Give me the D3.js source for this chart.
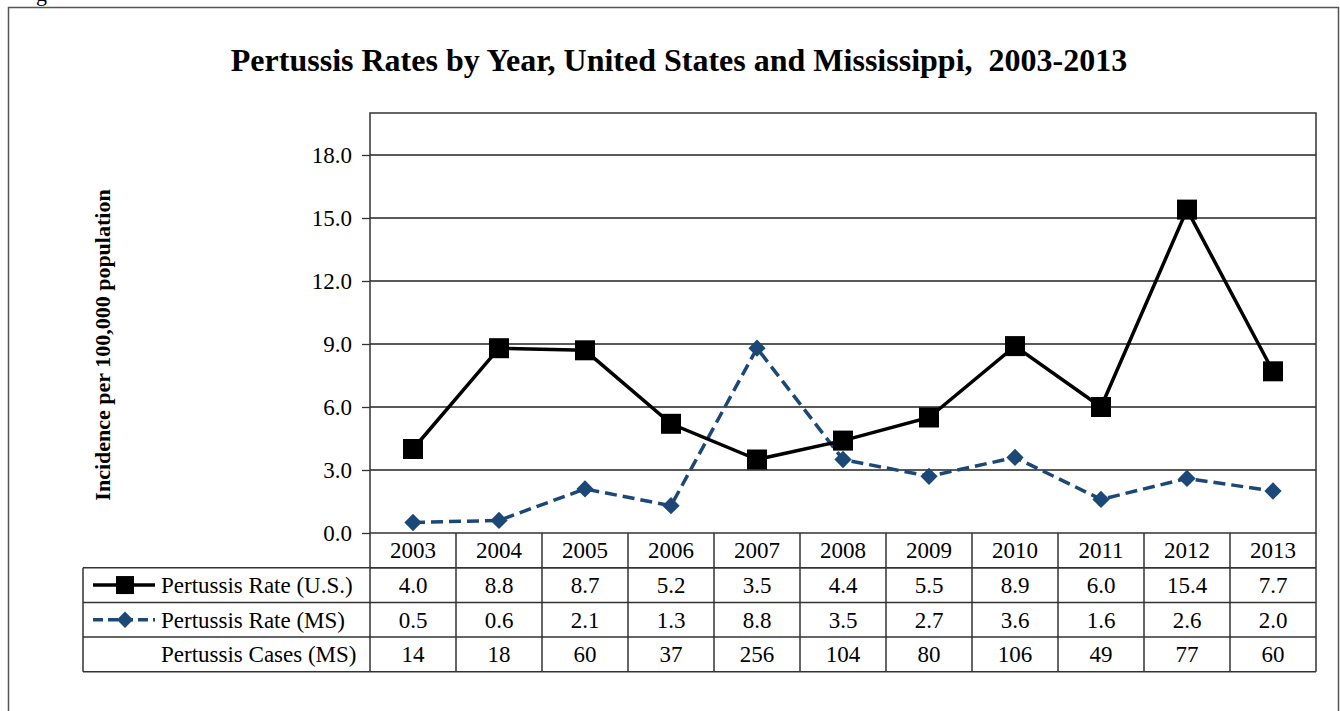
<!DOCTYPE html>
<html lang="en">
<head>
<meta charset="utf-8">
<title>Pertussis Rates</title>
<script src="https://d3js.org/d3.v7.min.js"></script>
<style>
  body { margin: 0; background: #fff; }
  svg text { font-family: "Liberation Serif", "Times New Roman", serif; fill: #000; }
</style>
</head>
<body>
<div id="chart"></div>
<script>
// data
var years = ["2003","2004","2005","2006","2007","2008","2009","2010","2011","2012","2013"];
var usRate = [4.0, 8.8, 8.7, 5.2, 3.5, 4.4, 5.5, 8.9, 6.0, 15.4, 7.7];
var msRate = [0.5, 0.6, 2.1, 1.3, 8.8, 3.5, 2.7, 3.6, 1.6, 2.6, 2.0];
var msCases = [14, 18, 60, 37, 256, 104, 80, 106, 49, 77, 60];
var yTicks = [0, 3, 6, 9, 12, 15, 18];
var rowNames = ["Pertussis Rate (U.S.)", "Pertussis Rate (MS)", "Pertussis Cases (MS)"];

var W = 1340, H = 711;
var plotL = 370, plotR = 1316, plotT = 113, plotB = 533;
var rowH = 34.7, legendLeft = 83;
var msColor = "#1b4876";
var fs = "23px";

var svg = d3.select("#chart").append("svg").attr("width", W).attr("height", H);

// outer frame
svg.append("rect").attr("x", 8.5).attr("y", 7.5).attr("width", 1330).attr("height", 720)
  .attr("fill", "none").attr("stroke", "#555").attr("stroke-width", 1.5);
svg.append("text").attr("x", 36).attr("y", 1).style("font-size", "22px").text("g");

// title
svg.append("text").attr("x", 679).attr("y", 71).attr("text-anchor", "middle")
  .style("font-size", "32px").style("font-weight", "bold")
  .text("Pertussis Rates by Year, United States and Mississippi,  2003-2013")
  .attr("xml:space", "preserve");

var x = d3.scaleBand().domain(years).range([plotL, plotR]);
var y = d3.scaleLinear().domain([0, 20]).range([plotB, plotT]);

// grid lines
svg.append("g").selectAll("line").data(yTicks.filter(function(d){ return d > 0; })).join("line")
  .attr("x1", plotL).attr("x2", plotR)
  .attr("y1", function(d){ return y(d); }).attr("y2", function(d){ return y(d); })
  .attr("stroke", "#222").attr("stroke-width", 1.3);

// y axis
var yAxis = d3.axisLeft(y).tickValues(yTicks).tickFormat(d3.format(".1f")).tickSize(8).tickPadding(10);
var ya = svg.append("g").attr("transform", "translate(" + plotL + ",0)").call(yAxis);
ya.select(".domain").remove();
ya.selectAll(".tick line").attr("stroke", "#333").attr("stroke-width", 1.3);
ya.selectAll(".tick text").style("font-size", fs).style("font-family", "Liberation Serif, serif");

// plot border
svg.append("rect").attr("x", plotL).attr("y", plotT).attr("width", plotR - plotL).attr("height", plotB - plotT)
  .attr("fill", "none").attr("stroke", "#333").attr("stroke-width", 1.5);

// y axis title
svg.append("text").attr("transform", "translate(110," + 345 + ") rotate(-90)")
  .attr("text-anchor", "middle").style("font-size", "22px").style("font-weight", "bold")
  .text("Incidence per 100,000 population");

// data table
var tbl = svg.append("g");
var nRows = rowNames.length;
tbl.append("line").attr("x1", plotL).attr("x2", plotR).attr("y1", plotB + rowH).attr("y2", plotB + rowH)
  .attr("stroke", "#333").attr("stroke-width", 1.5);
tbl.selectAll("line.h").data(d3.range(1, nRows + 2)).join("line").attr("class", "h")
  .attr("x1", legendLeft).attr("x2", plotR)
  .attr("y1", function(d){ return plotB + d * rowH; }).attr("y2", function(d){ return plotB + d * rowH; })
  .attr("stroke", "#333").attr("stroke-width", 1.5);
tbl.selectAll("line.v").data(years).join("line").attr("class", "v")
  .attr("x1", function(d){ return x(d) + x.bandwidth(); }).attr("x2", function(d){ return x(d) + x.bandwidth(); })
  .attr("y1", plotB).attr("y2", plotB + (nRows + 1) * rowH)
  .attr("stroke", "#333").attr("stroke-width", 1.5);
tbl.append("line").attr("x1", plotL).attr("x2", plotL).attr("y1", plotB).attr("y2", plotB + (nRows + 1) * rowH)
  .attr("stroke", "#333").attr("stroke-width", 1.5);
tbl.append("line").attr("x1", legendLeft).attr("x2", legendLeft).attr("y1", plotB + rowH).attr("y2", plotB + (nRows + 1) * rowH)
  .attr("stroke", "#333").attr("stroke-width", 1.5);

// year header
tbl.selectAll("text.yr").data(years).join("text").attr("class", "yr")
  .attr("x", function(d){ return x(d) + x.bandwidth() / 2; }).attr("y", plotB + rowH / 2 + 8)
  .attr("text-anchor", "middle").style("font-size", fs).text(function(d){ return d; });

var rows = [usRate.map(d3.format(".1f")), msRate.map(d3.format(".1f")), msCases.map(String)];
rows.forEach(function(r, i) {
  var cy = plotB + (i + 1) * rowH + rowH / 2;
  tbl.selectAll("text.r" + i).data(r).join("text").attr("class", "r" + i)
    .attr("x", function(d, j){ return x(years[j]) + x.bandwidth() / 2; }).attr("y", cy + 8)
    .attr("text-anchor", "middle").style("font-size", fs).text(function(d){ return d; });
  tbl.append("text").attr("x", 161).attr("y", cy + 8).style("font-size", fs).text(rowNames[i]);
});

// legend keys inside table
var k1 = plotB + rowH * 1.5, k2 = plotB + rowH * 2.5;
tbl.append("line").attr("x1", 93).attr("x2", 155).attr("y1", k1).attr("y2", k1).attr("stroke", "#000").attr("stroke-width", 3.5);
tbl.append("rect").attr("x", 116).attr("y", k1 - 9).attr("width", 18).attr("height", 18).attr("fill", "#000");
tbl.append("line").attr("x1", 93).attr("x2", 155).attr("y1", k2).attr("y2", k2).attr("stroke", msColor)
  .attr("stroke-width", 3.5).attr("stroke-dasharray", "10,5");
tbl.append("path").attr("d", d3.symbol(d3.symbolDiamond2, 170)()).attr("transform", "translate(125," + k2 + ")").attr("fill", msColor);

// series lines
var cx = function(d, i){ return x(years[i]) + x.bandwidth() / 2; };
var line = d3.line().x(cx).y(function(d){ return y(d); });

svg.append("path").datum(msRate).attr("d", line).attr("fill", "none")
  .attr("stroke", msColor).attr("stroke-width", 3.5).attr("stroke-dasharray", "12,6");
svg.selectAll("path.ms").data(msRate).join("path").attr("class", "ms")
  .attr("d", d3.symbol(d3.symbolDiamond2, 190)())
  .attr("transform", function(d, i){ return "translate(" + cx(d, i) + "," + y(d) + ")"; })
  .attr("fill", msColor);

svg.append("path").datum(usRate).attr("d", line).attr("fill", "none")
  .attr("stroke", "#000").attr("stroke-width", 3.5);
svg.selectAll("rect.us").data(usRate).join("rect").attr("class", "us")
  .attr("x", function(d, i){ return cx(d, i) - 10; }).attr("y", function(d){ return y(d) - 10; })
  .attr("width", 20).attr("height", 20).attr("fill", "#000");
</script>
</body>
</html>
